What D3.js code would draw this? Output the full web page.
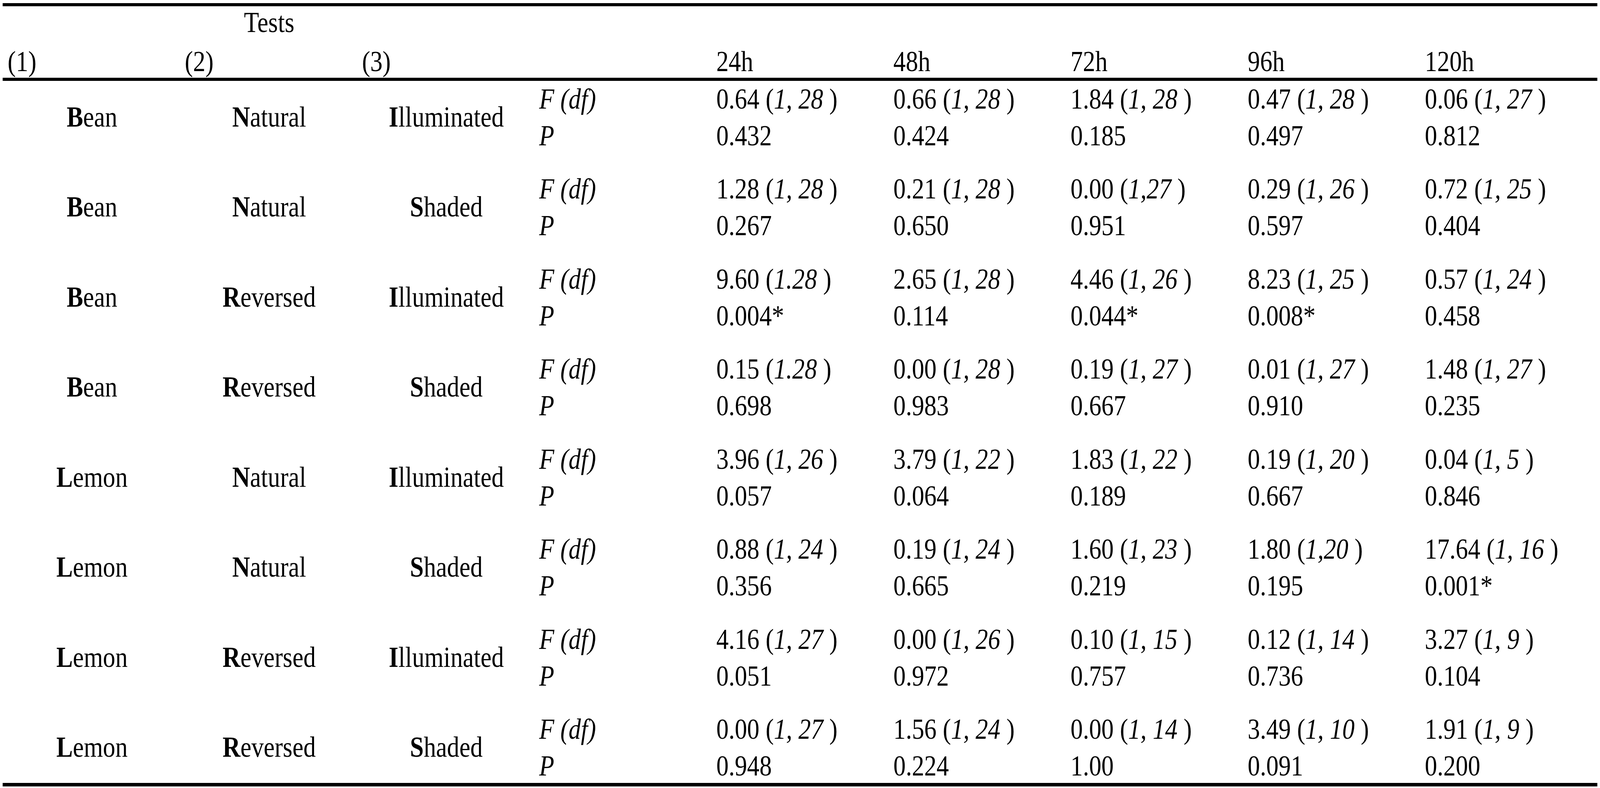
<!DOCTYPE html>
<html>
<head>
<meta charset="utf-8">
<script src="https://cdn.jsdelivr.net/npm/d3@7"></script>
<style>
  html, body { margin: 0; padding: 0; background: #fff; overflow: hidden; }
  svg { display: block; width: 100vw; height: 100vh; }
  text { font-family: "Liberation Serif", "Times New Roman", serif; font-size: 74px; fill: #000; }
</style>
</head>
<body>
<div id="chart"></div>
<script>
// ---- data ----
const plants     = ["Bean", "Bean", "Bean", "Bean", "Lemon", "Lemon", "Lemon", "Lemon"];
const directions = ["Natural", "Natural", "Reversed", "Reversed", "Natural", "Natural", "Reversed", "Reversed"];
const lights     = ["Illuminated", "Shaded", "Illuminated", "Shaded", "Illuminated", "Shaded", "Illuminated", "Shaded"];
const hours      = ["24h", "48h", "72h", "96h", "120h"];
const headerNums = ["(1)", "(2)", "(3)"];
const statLabels = ["F (df)", "P"];

const fValues = [
  ["0.64", "0.66", "1.84", "0.47", "0.06"],
  ["1.28", "0.21", "0.00", "0.29", "0.72"],
  ["9.60", "2.65", "4.46", "8.23", "0.57"],
  ["0.15", "0.00", "0.19", "0.01", "1.48"],
  ["3.96", "3.79", "1.83", "0.19", "0.04"],
  ["0.88", "0.19", "1.60", "1.80", "17.64"],
  ["4.16", "0.00", "0.10", "0.12", "3.27"],
  ["0.00", "1.56", "0.00", "3.49", "1.91"]
];
const dfValues = [
  ["1, 28", "1, 28", "1, 28", "1, 28", "1, 27"],
  ["1, 28", "1, 28", "1,27",  "1, 26", "1, 25"],
  ["1.28",  "1, 28", "1, 26", "1, 25", "1, 24"],
  ["1.28",  "1, 28", "1, 27", "1, 27", "1, 27"],
  ["1, 26", "1, 22", "1, 22", "1, 20", "1, 5"],
  ["1, 24", "1, 24", "1, 23", "1,20",  "1, 16"],
  ["1, 27", "1, 26", "1, 15", "1, 14", "1, 9"],
  ["1, 27", "1, 24", "1, 14", "1, 10", "1, 9"]
];
const pValues = [
  ["0.432", "0.424", "0.185", "0.497", "0.812"],
  ["0.267", "0.650", "0.951", "0.597", "0.404"],
  ["0.004*", "0.114", "0.044*", "0.008*", "0.458"],
  ["0.698", "0.983", "0.667", "0.910", "0.235"],
  ["0.057", "0.064", "0.189", "0.667", "0.846"],
  ["0.356", "0.665", "0.219", "0.195", "0.001*"],
  ["0.051", "0.972", "0.757", "0.736", "0.104"],
  ["0.948", "0.224", "1.00", "0.091", "0.200"]
];

// ---- layout (reference pixel units, stretched to fill the viewport) ----
const W = 4799, H = 2017;
const columns = ["c1", "c2", "c3", "stat"].concat(hours);
const x = d3.scaleBand().domain(columns).range([0, 4782]);
const padL = 23;
const centerOff = 276;
const y = d3.scaleLinear().domain([0, plants.length - 1]).range([324, 1937]);
const fOff = -46, pOff = 48;

const svg = d3.select("#chart").append("svg")
  .attr("viewBox", `0 0 ${W} ${H}`)
  .attr("preserveAspectRatio", "none");

// rules
const rules = [{y: 12, w: 8}, {y: 203, w: 8}, {y: 2008.5, w: 9}];
svg.selectAll("line.rule").data(rules).join("line")
  .attr("class", "rule")
  .attr("x1", 8).attr("x2", 4791)
  .attr("y1", d => d.y).attr("y2", d => d.y)
  .attr("stroke", "#000").attr("stroke-width", d => d.w);

// header
svg.append("text").attr("x", x("c2") + centerOff).attr("y", 82)
  .attr("text-anchor", "middle").text("Tests");
svg.selectAll("text.hnum").data(headerNums).join("text")
  .attr("class", "hnum")
  .attr("x", (d, i) => x(columns[i]) + padL).attr("y", 182)
  .text(d => d);
svg.selectAll("text.hour").data(hours).join("text")
  .attr("class", "hour")
  .attr("x", d => x(d) + padL).attr("y", 182)
  .text(d => d);

// rows
const rows = plants.map((p, i) => ({i, plant: p, dir: directions[i], light: lights[i]}));
const g = svg.selectAll("g.row").data(rows).join("g").attr("class", "row");

function boldInitial(sel, key, col) {
  const t = sel.append("text")
    .attr("x", x(col) + centerOff)
    .attr("y", d => y(d.i))
    .attr("text-anchor", "middle");
  t.append("tspan").attr("font-weight", "bold").text(d => d[key][0]);
  t.append("tspan").text(d => d[key].slice(1));
}
boldInitial(g, "plant", "c1");
boldInitial(g, "dir", "c2");
boldInitial(g, "light", "c3");

// stat labels
g.append("text").attr("x", x("stat") + padL).attr("y", d => y(d.i) + fOff)
  .attr("font-style", "italic").text(statLabels[0]);
g.append("text").attr("x", x("stat") + padL).attr("y", d => y(d.i) + pOff)
  .attr("font-style", "italic").text(statLabels[1]);

// values
hours.forEach((h, j) => {
  const ft = g.append("text").attr("x", x(h) + padL).attr("y", d => y(d.i) + fOff);
  ft.append("tspan").text(d => fValues[d.i][j] + " (");
  ft.append("tspan").attr("font-style", "italic").text(d => dfValues[d.i][j] + "\u00a0");
  ft.append("tspan").text(")");
  g.append("text").attr("x", x(h) + padL).attr("y", d => y(d.i) + pOff)
    .text(d => pValues[d.i][j]);
});
</script>
</body>
</html>
